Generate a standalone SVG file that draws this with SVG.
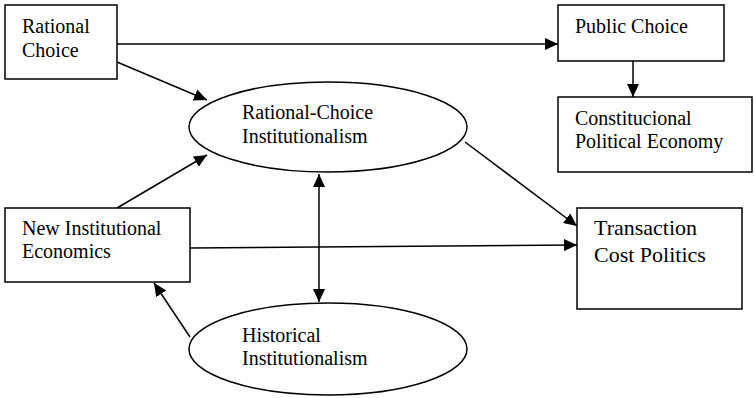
<svg xmlns="http://www.w3.org/2000/svg" width="754" height="398" viewBox="0 0 754 398">
<style>
.box{fill:#fff;stroke:#000;stroke-width:1.5}
.t{font-family:"Liberation Serif","Times New Roman",serif;font-size:20px;fill:#000}
.tl{font-family:"Liberation Serif","Times New Roman",serif;font-size:22px;fill:#000}
.c{stroke:#000;stroke-width:1.5;fill:none}
</style>
<defs>
<marker id="ah" markerUnits="userSpaceOnUse" markerWidth="14" markerHeight="12" refX="13" refY="6" orient="auto">
<path d="M0,0 L13,6 L0,12 z" fill="#000"/>
</marker>
<marker id="ahs" markerUnits="userSpaceOnUse" markerWidth="14" markerHeight="12" refX="0" refY="6" orient="auto">
<path d="M13,0 L0,6 L13,12 z" fill="#000"/>
</marker>
</defs>
<g id="connectors">
<line class="c" x1="117" y1="44" x2="558" y2="44" marker-end="url(#ah)"/>
<line class="c" x1="633" y1="61" x2="633" y2="97" marker-end="url(#ah)"/>
<line class="c" x1="117" y1="62" x2="207" y2="100" marker-end="url(#ah)"/>
<line class="c" x1="117" y1="208" x2="207" y2="155" marker-end="url(#ah)"/>
<line class="c" x1="190" y1="248" x2="577" y2="245" marker-end="url(#ah)"/>
<line class="c" x1="465" y1="142" x2="577" y2="226" marker-end="url(#ah)"/>
<line class="c" x1="319" y1="174" x2="319" y2="302" stroke-width="2" marker-start="url(#ahs)" marker-end="url(#ah)"/>
<line class="c" x1="190" y1="337" x2="154" y2="283" marker-end="url(#ah)"/>
</g>
<g id="rational-choice">
<rect class="box" x="5" y="5" width="112" height="74"/>
<text class="t" x="22" y="33">Rational</text>
<text class="t" x="22" y="57">Choice</text>
</g>
<g id="public-choice">
<rect class="box" x="558" y="5" width="166" height="56"/>
<text class="t" x="575" y="33">Public Choice</text>
</g>
<g id="constitucional">
<rect class="box" x="558" y="97" width="194" height="75"/>
<text class="t" x="575" y="125">Constitucional</text>
<text class="t" x="575" y="148">Political Economy</text>
</g>
<g id="rci">
<ellipse class="box" cx="328" cy="127" rx="139" ry="45"/>
<text class="t" x="242" y="119">Rational-Choice</text>
<text class="t" x="242" y="143">Institutionalism</text>
</g>
<g id="nie">
<rect class="box" x="5" y="208" width="185" height="74"/>
<text class="t" x="22" y="235">New Institutional</text>
<text class="t" x="22" y="258">Economics</text>
</g>
<g id="tcp">
<rect class="box" x="577" y="208" width="165" height="101"/>
<text class="tl" x="594" y="235">Transaction</text>
<text class="tl" x="594" y="262">Cost Politics</text>
</g>
<g id="hi">
<ellipse class="box" cx="328" cy="349" rx="139" ry="46"/>
<text class="t" x="242" y="342">Historical</text>
<text class="t" x="242" y="365">Institutionalism</text>
</g>
</svg>
